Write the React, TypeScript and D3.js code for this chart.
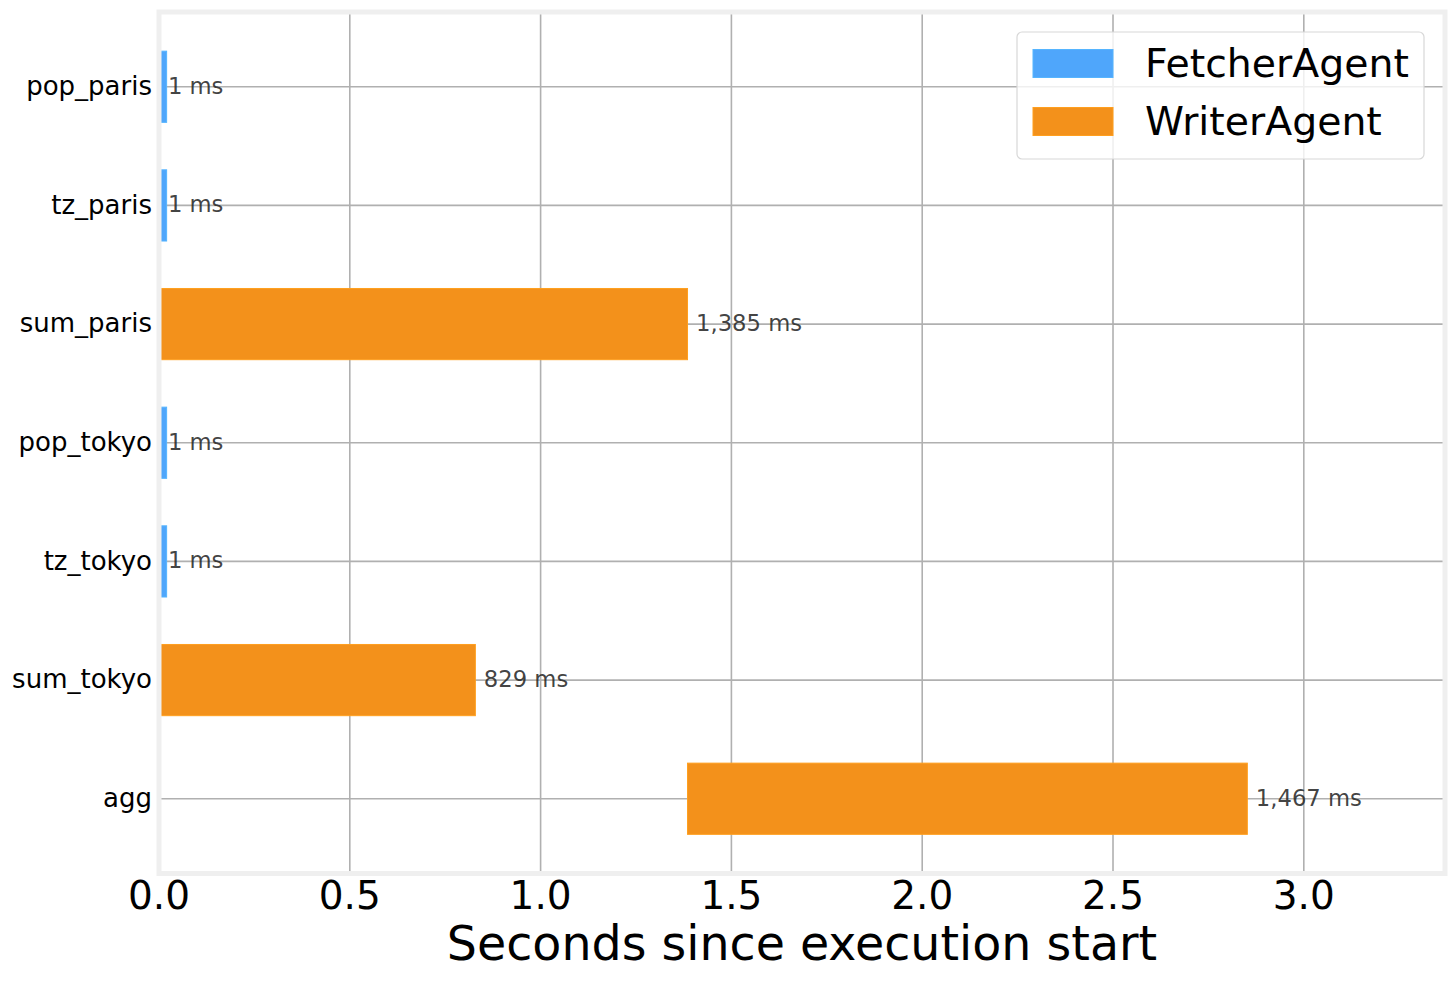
import { useEffect, useRef } from "react";
import * as d3 from "d3";

const tasks = ["pop_paris", "tz_paris", "sum_paris", "pop_tokyo", "tz_tokyo", "sum_tokyo", "agg"];
const taskAgents = ["FetcherAgent", "FetcherAgent", "WriterAgent", "FetcherAgent", "FetcherAgent", "WriterAgent", "WriterAgent"];
const startMs = [0, 0, 0, 0, 0, 0, 1385];
const durationMs = [1, 1, 1385, 1, 1, 829, 1467];

const agents = ["FetcherAgent", "WriterAgent"];
const agentColors = ["#4fa6fb", "#f3911b"];
const xTicks = [0, 0.5, 1.0, 1.5, 2.0, 2.5, 3.0];
const xMax = 3.37;

const WIDTH = 1456;
const HEIGHT = 982;
const FONT = "DejaVu Sans, sans-serif";

export default function App() {
  const svgRef = useRef<SVGSVGElement>(null);

  useEffect(() => {
    const svg = d3.select(svgRef.current);
    svg.selectAll("*").remove();

    const left = 159, right = 1445, top = 12, bottom = 873.5;

    const x = d3.scaleLinear().domain([0, xMax]).range([left, right]);
    const y = d3.scaleLinear().domain([-0.63, tasks.length - 1 + 0.63]).range([top, bottom]);
    const color = d3.scaleOrdinal<string, string>().domain(agents).range(agentColors);
    const barH = y(0.6) - y(0);

    svg.append("rect").attr("width", WIDTH).attr("height", HEIGHT).attr("fill", "#fff");

    // grid
    const grid = svg.append("g").attr("stroke", "#b0b0b0").attr("stroke-width", 1.6);
    grid.selectAll("line.v")
      .data(xTicks)
      .join("line")
      .attr("class", "v")
      .attr("x1", (d) => x(d)).attr("x2", (d) => x(d))
      .attr("y1", top).attr("y2", bottom);
    grid.selectAll("line.h")
      .data(tasks)
      .join("line")
      .attr("class", "h")
      .attr("x1", left).attr("x2", right)
      .attr("y1", (_, i) => y(i)).attr("y2", (_, i) => y(i));

    // bars (tiny tasks get a minimum visible width)
    const minVisibleMs = 20;
    svg.append("g")
      .selectAll("rect")
      .data(tasks)
      .join("rect")
      .attr("x", (_, i) => x(startMs[i] / 1000))
      .attr("width", (_, i) => x((startMs[i] + Math.max(durationMs[i], minVisibleMs)) / 1000) - x(startMs[i] / 1000))
      .attr("y", (_, i) => y(i) - barH / 2)
      .attr("height", barH)
      .attr("fill", (_, i) => color(taskAgents[i]))
      .attr("stroke", (_, i) => d3.color(color(taskAgents[i]))!.brighter(0.25).formatHex())
      .attr("stroke-width", 1);

    // duration labels
    const fmt = d3.format(",");
    svg.append("g")
      .selectAll("text")
      .data(tasks)
      .join("text")
      .attr("x", (_, i) => x((startMs[i] + durationMs[i]) / 1000) + 8.5)
      .attr("y", (_, i) => y(i))
      .attr("dy", "0.3em")
      .attr("font-family", FONT)
      .attr("font-size", 22.7)
      .attr("fill", "#222")
      .attr("fill-opacity", 0.85)
      .text((_, i) => `${fmt(durationMs[i])} ms`);

    // frame
    svg.append("rect")
      .attr("x", left).attr("y", top)
      .attr("width", right - left).attr("height", bottom - top)
      .attr("fill", "none")
      .attr("stroke", "#efefef")
      .attr("stroke-width", 5);

    // y tick labels
    svg.append("g")
      .selectAll("text")
      .data(tasks)
      .join("text")
      .attr("x", 152)
      .attr("y", (_, i) => y(i))
      .attr("dy", "0.32em")
      .attr("text-anchor", "end")
      .attr("font-family", FONT)
      .attr("font-size", 26)
      .attr("fill", "#000")
      .text((d) => d);

    // x tick labels
    svg.append("g")
      .selectAll("text")
      .data(xTicks)
      .join("text")
      .attr("x", (d) => x(d))
      .attr("y", 909)
      .attr("text-anchor", "middle")
      .attr("font-family", FONT)
      .attr("font-size", 39)
      .attr("fill", "#000")
      .text((d) => d3.format(".1f")(d));

    // x label
    svg.append("text")
      .attr("x", (left + right) / 2)
      .attr("y", 960)
      .attr("text-anchor", "middle")
      .attr("font-family", FONT)
      .attr("font-size", 47.5)
      .attr("fill", "#000")
      .text("Seconds since execution start");

    // legend
    const lg = svg.append("g");
    lg.append("rect")
      .attr("x", 1017).attr("y", 32)
      .attr("width", 407).attr("height", 127)
      .attr("rx", 5)
      .attr("fill", "#fff").attr("fill-opacity", 0.8)
      .attr("stroke", "#d8d8d8").attr("stroke-width", 1.2);
    const rows = lg.selectAll("g")
      .data(agents)
      .join("g")
      .attr("transform", (_, i) => `translate(0,${63.5 + i * 58})`);
    rows.append("rect")
      .attr("x", 1033).attr("y", -14)
      .attr("width", 80).attr("height", 28)
      .attr("fill", (d) => color(d))
      .attr("stroke", (d) => d3.color(color(d))!.brighter(0.25).formatHex())
      .attr("stroke-width", 1);
    rows.append("text")
      .attr("x", 1145)
      .attr("dy", "0.35em")
      .attr("font-family", FONT)
      .attr("font-size", 39.4)
      .attr("fill", "#000")
      .text((d) => d);
  }, []);

  return (
    <svg
      ref={svgRef}
      width={WIDTH}
      height={HEIGHT}
      style={{ position: "absolute", left: 0, top: 0 }}
    />
  );
}
